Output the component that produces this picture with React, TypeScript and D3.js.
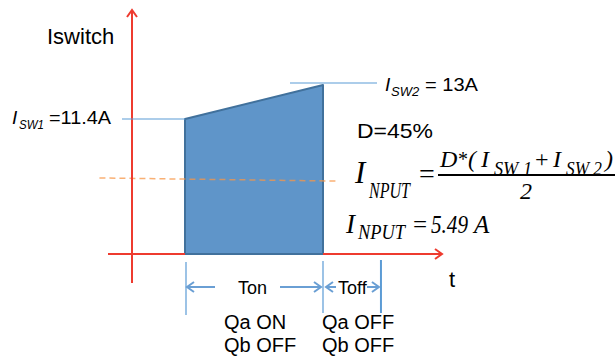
import { useEffect, useRef } from 'react';
import * as d3 from 'd3';

// switch currents (A): start and end of the on-time ramp
const switchCurrents = [11.4, 13];
// schematic time edges: Ton start, Ton end, Toff end
const timeEdges = [0, 1, 1.42];
// dashed guide across the waveform (t, A)
const guideLine: [number, number][] = [
  [-0.62, 6.42],
  [1.1, 6.16],
];
const phaseLabels = ['Ton', 'Toff'];
const switchStates = [
  ['Qa ON', 'Qb OFF'],
  ['Qa OFF', 'Qb OFF'],
];
const yLabel = 'Iswitch';
const xLabel = 't';
const dutyLabel = 'D=45%';
const resultValue = '5.49';

const SANS = '"Liberation Sans", Arial, sans-serif';
const SERIF = '"Liberation Serif", "Times New Roman", serif';
const RED = '#ee3b2f';
const BLUE_LINE = '#5b9bd5';

const App = () => {
  const svgRef = useRef<SVGSVGElement>(null);

  useEffect(() => {
    const svg = d3.select(svgRef.current);
    svg.selectAll('*').remove();

    const [isw1, isw2] = switchCurrents;
    const [tStart, tEnd, tOffEnd] = timeEdges;

    // scales (schematic, not to scale)
    const x = d3.scaleLinear().domain([0, 1]).range([185, 323]);
    const y = d3.scaleLinear().domain([0, isw1, isw2]).range([254, 119, 85]);

    const axisX = 132;
    const axisY = y(0);

    // waveform
    const poly: [number, number][] = [
      [tStart, 0],
      [tStart, isw1],
      [tEnd, isw2],
      [tEnd, 0],
    ];
    const shape = d3
      .line<[number, number]>()
      .x((d) => x(d[0]))
      .y((d) => y(d[1]))
      .curve(d3.curveLinearClosed);
    svg
      .append('path')
      .attr('d', shape(poly))
      .attr('fill', '#5f95c9')
      .attr('stroke', '#41719c')
      .attr('stroke-width', 2)
      .attr('stroke-linejoin', 'round');

    // dashed guide
    svg
      .append('path')
      .attr(
        'd',
        d3
          .line<[number, number]>()
          .x((d) => x(d[0]))
          .y((d) => y(d[1]))(guideLine)
      )
      .attr('stroke', '#f79646')
      .attr('stroke-width', 1.5)
      .attr('stroke-dasharray', '6,4')
      .attr('opacity', 0.75)
      .attr('fill', 'none');

    // axes (red arrows)
    const chevron = (tx: number, ty: number, dir: 'up' | 'right' | 'left', s = 6) => {
      if (dir === 'up') return `M${tx - s},${ty + s * 1.4}L${tx},${ty}L${tx + s},${ty + s * 1.4}`;
      if (dir === 'right') return `M${tx - s * 1.4},${ty - s}L${tx},${ty}L${tx - s * 1.4},${ty + s}`;
      return `M${tx + s * 1.4},${ty - s}L${tx},${ty}L${tx + s * 1.4},${ty + s}`;
    };
    svg
      .append('line')
      .attr('x1', axisX)
      .attr('x2', axisX)
      .attr('y1', 283)
      .attr('y2', 10)
      .attr('stroke', RED)
      .attr('stroke-width', 2);
    svg
      .append('path')
      .attr('d', chevron(axisX, 10, 'up', 5))
      .attr('stroke', RED)
      .attr('stroke-width', 2)
      .attr('fill', 'none');
    svg
      .append('line')
      .attr('x1', 108)
      .attr('x2', x(tStart))
      .attr('y1', axisY)
      .attr('y2', axisY)
      .attr('stroke', RED)
      .attr('stroke-width', 2);
    svg
      .append('line')
      .attr('x1', x(tEnd))
      .attr('x2', 442)
      .attr('y1', axisY)
      .attr('y2', axisY)
      .attr('stroke', RED)
      .attr('stroke-width', 2);
    svg
      .append('path')
      .attr('d', chevron(442, axisY, 'right', 5))
      .attr('stroke', RED)
      .attr('stroke-width', 2)
      .attr('fill', 'none');

    // current level markers
    svg
      .append('line')
      .attr('x1', 122)
      .attr('x2', x(tStart))
      .attr('y1', y(isw1))
      .attr('y2', y(isw1))
      .attr('stroke', BLUE_LINE)
      .attr('stroke-width', 1.2);
    svg
      .append('line')
      .attr('x1', 290)
      .attr('x2', 377)
      .attr('y1', y(isw2) - 2)
      .attr('y2', y(isw2) - 2)
      .attr('stroke', BLUE_LINE)
      .attr('stroke-width', 1.2);

    // time markers
    const markerSpans = [
      [262, 315],
      [261, 313],
      [260, 313],
    ];
    timeEdges.forEach((t, i) => {
      svg
        .append('line')
        .attr('x1', x(t) + (i === 0 ? 1 : 0))
        .attr('x2', x(t) + (i === 0 ? 1 : 0))
        .attr('y1', markerSpans[i][0])
        .attr('y2', markerSpans[i][1])
        .attr('stroke', BLUE_LINE)
        .attr('stroke-width', i === 2 ? 2 : 1.2);
    });

    // phase arrows
    const arrowY = 287;
    const arrow = (from: number, to: number, dir: 'left' | 'right') => {
      svg
        .append('line')
        .attr('x1', from)
        .attr('x2', to)
        .attr('y1', arrowY)
        .attr('y2', arrowY)
        .attr('stroke', '#6a9fd4')
        .attr('stroke-width', 2);
      svg
        .append('path')
        .attr('d', chevron(to, arrowY, dir, 5))
        .attr('stroke', '#6a9fd4')
        .attr('stroke-width', 2)
        .attr('fill', 'none');
    };
    arrow(215, x(tStart) + 2, 'left');
    arrow(280, x(tEnd) - 2, 'right');
    arrow(336, x(tEnd) + 3, 'left');
    arrow(367, x(tOffEnd) - 2, 'right');

    // generic text helper
    const txt = (
      s: string,
      tx: number,
      ty: number,
      size: number,
      opts: { family?: string; italic?: boolean; len?: number } = {}
    ) => {
      const t = svg
        .append('text')
        .attr('x', tx)
        .attr('y', ty)
        .attr('font-family', opts.family ?? SANS)
        .attr('font-size', size)
        .attr('font-style', opts.italic ? 'italic' : 'normal')
        .attr('fill', '#000')
        .text(s);
      if (opts.len) t.attr('textLength', opts.len).attr('lengthAdjust', 'spacingAndGlyphs');
      return t;
    };

    // axis labels
    txt(yLabel, 47, 44, 22);
    txt(xLabel, 449, 287, 22);

    // Isw labels
    txt('I', 12, 124, 19, { italic: true });
    txt('SW1', 19, 129, 13, { italic: true, len: 25 });
    txt('=11.4A', 49, 124, 19, { len: 62 });
    txt('I', 385, 91, 19, { italic: true });
    txt('SW2', 391, 96, 13, { italic: true });
    txt('= 13A', 425, 91, 19, { len: 53 });

    txt(dutyLabel, 357, 138, 21, { len: 76 });

    // formula: I_NPUT = D*(I_SW1 + I_SW2) / 2
    const it = { family: SERIF, italic: true };
    txt('I', 355, 183, 31, it);
    txt('NPUT', 369, 198, 23, { ...it, len: 41 });
    txt('=', 419, 183, 28, { family: SERIF });
    svg
      .append('line')
      .attr('x1', 438)
      .attr('x2', 615)
      .attr('y1', 175)
      .attr('y2', 175)
      .attr('stroke', '#000')
      .attr('stroke-width', 2);
    txt('D', 440, 167, 24, it);
    txt('*', 458, 166, 20, { family: SERIF });
    txt('(', 468, 167, 24, it);
    txt('I', 481, 167, 24, it);
    txt('SW 1', 494, 175, 19, { ...it, len: 38 });
    txt('+', 535, 167, 24, { family: SERIF });
    txt('I', 553, 167, 24, it);
    txt('SW 2', 566, 175, 19, { ...it, len: 36 });
    txt(')', 605, 167, 24, it);
    txt('2', 520, 199, 24, it);

    // result
    txt('I', 346, 233, 27, it);
    txt('NPUT', 358, 239, 22, { ...it, len: 47 });
    txt('=', 413, 233, 25, { family: SERIF });
    txt(resultValue, 431, 233, 25, { ...it, len: 37 });
    txt('A', 474, 233, 25, it);

    // phase labels and switch states
    txt(phaseLabels[0], 238, 294, 18);
    txt(phaseLabels[1], 338, 294, 18);
    const stateX = [224, 322];
    switchStates.forEach((lines, i) => {
      lines.forEach((s, j) => {
        txt(s, stateX[i], 329 + j * 23, 20);
      });
    });
  }, []);

  return (
    <svg
      ref={svgRef}
      width={615}
      height={358}
      style={{ position: 'absolute', left: 0, top: 0, background: '#fff' }}
    />
  );
};

export default App;
